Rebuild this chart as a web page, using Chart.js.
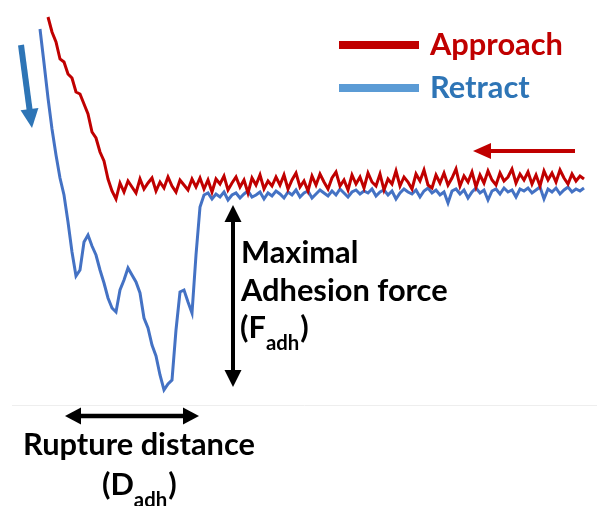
<!DOCTYPE html>
<html>
<head>
<meta charset="utf-8">
<script src="https://cdn.jsdelivr.net/npm/chart.js@4.4.1/dist/chart.umd.min.js"></script>
<style>
html,body{margin:0;padding:0;background:#fff;}
#wrap{width:597px;height:506px;position:relative;}
</style>
</head>
<body>
<div id="wrap"><canvas id="c" width="597" height="506"></canvas></div>
<script>
// Tip–sample distance (arbitrary units, nm)
const distance = [
  0,4,8,12,16,20,24,28,32,36,40,44,48,52,56,60,64,68,72,76,
  80,84,88,92,96,100,104,108,112,116,120,124,128,132,136,140,144,148,152,156,
  160,164,168,172,176,180,184,188,192,196,200,204,208,212,216,220,224,228,232,236,
  240,244,248,252,256,260,264,268,272,276,280,284,288,292,296,300,304,308,312,316,
  320,324,328,332,336,340,344,348,352,356,360,364,368,372,376,380,384,388,392,396,
  400,404,408,412,416,420,424,428,432,436,440,444,448,452,456,460,464,468,472,476,
  480,484,488,492,496,500,504,508,512,516,520,524,528,532,536,540,544
];

// Approach curve force (arbitrary units, pN)
const approachForce = [
  null,null,178,163,153,136,133,121,117,103,101,91,81,63,57,43,34,16,4,
  -4,12,3,14,8,2,16,6,12,17,4,13,7,18,9,3,15,10,5,16,
  8,17,6,15,3,16,11,19,5,12,18,8,15,2,17,10,20,6,14,9,
  18,10,20,6,15,22,8,14,4,19,10,21,13,6,17,23,9,15,5,20,
  11,18,7,22,13,9,21,5,16,11,24,9,18,13,6,21,14,25,10,7,
  20,12,22,10,17,26,9,19,13,23,8,20,12,24,15,10,22,14,18,26,
  12,21,15,23,11,20,9,24,15,22,13,25,17,11,21,14,19,16
];

// Retract curve force (arbitrary units, pN)
const retractForce = [
  166,132,97,66,40,17,0,-27,-57,-81,-75,-47,-40,-51,-60,-75,-88,-103,-113,-117,
  -95,-85,-73,-80,-87,-98,-123,-133,-150,-161,-180,-195,-189,-185,-135,-97,-95,-107,-118,-60,
  -12,0,
  2,-4,1,-2,3,-5,0,2,-3,1,4,-2,0,3,-4,2,-1,4,1,-3,
  3,0,5,-2,2,4,-3,1,5,2,-1,4,0,6,2,-2,3,5,1,4,
  2,6,-1,3,5,0,4,-4,2,6,3,1,5,-2,4,7,2,5,0,3,
  -8,4,6,1,5,-3,3,7,2,5,-5,4,6,1,7,3,5,-2,6,4,
  7,2,5,8,-4,6,3,7,1,5,8,3,6,4,7
];

const seriesLabels = ['Approach', 'Retract'];

// Annotation anchors in data units
const adhesionArrow = { d: 193, top: -10, bottom: -192 };
const ruptureArrow = { from: 25, to: 159, f: -221 };
const baselineRule = { from: -28, to: 557, f: -210 };
const approachDir = { from: 535, to: 433, f: 44 };
const retractDir = { d0: -19, f0: 150, d1: -8, f1: 67 };

const RED = '#C00000';
const BLUE_LINE = '#4472C4';
const BLUE_LEG = '#5B9BD5';
const BLUE_TXT = '#2E75B6';
const FONT = 'Lato, "Noto Sans", sans-serif';

function arrowHead(ctx, x, y, ang, len, half) {
  ctx.beginPath();
  ctx.moveTo(x, y);
  ctx.lineTo(x - len * Math.cos(ang) + half * Math.sin(ang), y - len * Math.sin(ang) - half * Math.cos(ang));
  ctx.lineTo(x - len * Math.cos(ang) - half * Math.sin(ang), y - len * Math.sin(ang) + half * Math.cos(ang));
  ctx.closePath();
  ctx.fill();
}
function arrow(ctx, x0, y0, x1, y1, w, len, half, color, both) {
  const ang = Math.atan2(y1 - y0, x1 - x0);
  ctx.save();
  ctx.strokeStyle = color; ctx.fillStyle = color; ctx.lineWidth = w;
  ctx.beginPath();
  const sx = both ? x0 + (len - 2) * Math.cos(ang) : x0;
  const sy = both ? y0 + (len - 2) * Math.sin(ang) : y0;
  ctx.moveTo(sx, sy);
  ctx.lineTo(x1 - (len - 2) * Math.cos(ang), y1 - (len - 2) * Math.sin(ang));
  ctx.stroke();
  arrowHead(ctx, x1, y1, ang, len, half);
  if (both) arrowHead(ctx, x0, y0, ang + Math.PI, len, half);
  ctx.restore();
}
function fitText(ctx, text, width, weight) {
  ctx.font = weight + ' 100px ' + FONT;
  return 100 * width / ctx.measureText(text).width;
}
function subText(ctx, x, y, main1, sub, main2, size, color) {
  ctx.fillStyle = color;
  ctx.font = 'bold ' + size + 'px ' + FONT;
  ctx.fillText(main1, x, y);
  let cx = x + ctx.measureText(main1).width;
  const ss = size * 0.66;
  ctx.font = 'bold ' + ss + 'px ' + FONT;
  ctx.fillText(sub, cx, y + size * 0.38);
  cx += ctx.measureText(sub).width + 1;
  ctx.font = 'bold ' + size + 'px ' + FONT;
  ctx.fillText(main2, cx, y);
}

const annotations = {
  id: 'annotations',
  afterDatasetsDraw(chart) {
    const ctx = chart.ctx;
    const xs = chart.scales.x, ys = chart.scales.y;
    ctx.save();
    // faint baseline rule
    ctx.strokeStyle = '#eeeeee'; ctx.lineWidth = 1;
    ctx.beginPath();
    ctx.moveTo(xs.getPixelForValue(baselineRule.from), Math.round(ys.getPixelForValue(baselineRule.f)) + 0.5);
    ctx.lineTo(xs.getPixelForValue(baselineRule.to), Math.round(ys.getPixelForValue(baselineRule.f)) + 0.5);
    ctx.stroke();

    // adhesion force double arrow
    const ax = xs.getPixelForValue(adhesionArrow.d);
    arrow(ctx, ax, ys.getPixelForValue(adhesionArrow.bottom), ax, ys.getPixelForValue(adhesionArrow.top), 4, 17, 8.5, '#000', true);
    // rupture distance double arrow
    const ry = ys.getPixelForValue(ruptureArrow.f);
    arrow(ctx, xs.getPixelForValue(ruptureArrow.from), ry, xs.getPixelForValue(ruptureArrow.to), ry, 4.5, 16, 8.5, '#000', true);
    // approach direction arrow
    const dy = ys.getPixelForValue(approachDir.f);
    arrow(ctx, xs.getPixelForValue(approachDir.from), dy, xs.getPixelForValue(approachDir.to), dy, 4, 18, 8, RED, false);
    // retract direction arrow
    arrow(ctx, xs.getPixelForValue(retractDir.d0), ys.getPixelForValue(retractDir.f0),
      xs.getPixelForValue(retractDir.d1), ys.getPixelForValue(retractDir.f1), 6, 19, 9, BLUE_TXT, false);

    // legend
    const ds = chart.data.datasets;
    const legY = [45, 88];
    const legCol = [RED, BLUE_LEG];
    const txtCol = [RED, BLUE_TXT];
    const size = fitText(ctx, 'Rupture distance', 232, 'bold');
    ds.forEach((d, i) => {
      ctx.strokeStyle = legCol[i]; ctx.lineWidth = 8; ctx.lineCap = 'butt';
      ctx.beginPath(); ctx.moveTo(339, legY[i]); ctx.lineTo(419, legY[i]); ctx.stroke();
      ctx.fillStyle = txtCol[i];
      ctx.font = 'bold ' + size + 'px ' + FONT;
      ctx.textBaseline = 'alphabetic';
      ctx.fillText(d.label, 430, legY[i] + 10);
    });

    // annotation texts
    ctx.fillStyle = '#000';
    ctx.font = 'bold ' + size + 'px ' + FONT;
    ctx.fillText('Maximal', 241, 263);
    ctx.fillText('Adhesion force', 241, 301);
    subText(ctx, 240, 338, '(F', 'adh', ')', size, '#000');
    ctx.fillText('Rupture distance', 23, 455);
    subText(ctx, 102, 495, '(D', 'adh', ')', size, '#000');
    ctx.restore();
  }
};

new Chart(document.getElementById('c'), {
  type: 'line',
  data: {
    labels: distance,
    datasets: [
      { label: seriesLabels[0], data: distance.map((d, i) => ({ x: d, y: approachForce[i] })),
        borderColor: RED, borderWidth: 3, pointRadius: 0, tension: 0, spanGaps: false },
      { label: seriesLabels[1], data: distance.map((d, i) => ({ x: d, y: retractForce[i] })),
        borderColor: BLUE_LINE, borderWidth: 3, pointRadius: 0, tension: 0, spanGaps: false }
    ]
  },
  options: {
    responsive: false,
    animation: false,
    devicePixelRatio: 1,
    layout: { padding: 0 },
    plugins: { legend: { display: false }, tooltip: { enabled: false } },
    scales: {
      x: { type: 'linear', min: -40, max: 557, display: false },
      y: { type: 'linear', min: -311, max: 195, display: false }
    }
  },
  plugins: [annotations]
});
</script>
</body>
</html>
